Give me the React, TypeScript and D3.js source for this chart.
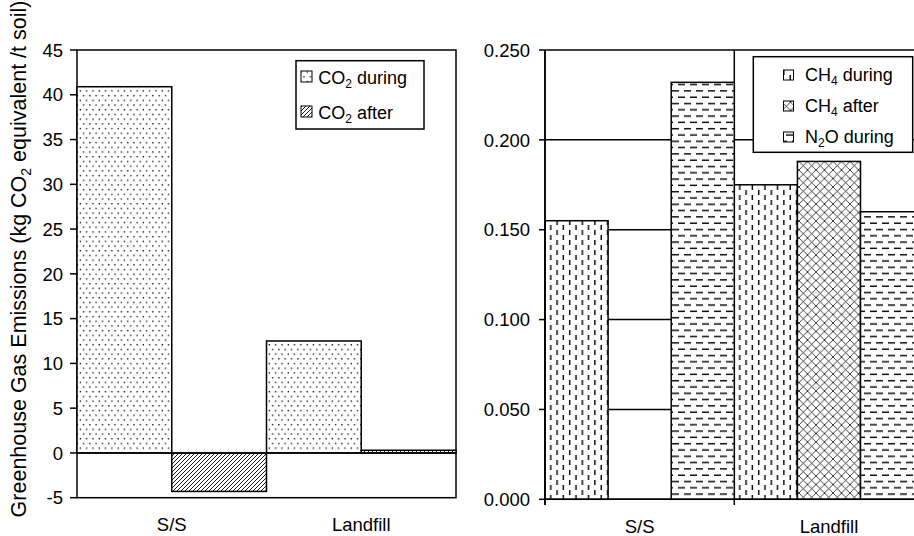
import React from "react";
import * as d3 from "d3";

const categories = ["S/S", "Landfill"];
const co2Series = ["CO2 during", "CO2 after"];
const co2During = [40.9, 12.5];
const co2After = [-4.3, 0.3];
const ch4Series = ["CH4 during", "CH4 after", "N2O during"];
const ch4During = [0.155, 0.175];
const ch4After = [0, 0.188];
const n2oDuring = [0.232, 0.16];
const leftTicks = [-5, 0, 5, 10, 15, 20, 25, 30, 35, 40, 45];
const rightTicks = [0, 0.05, 0.1, 0.15, 0.2, 0.25];

const FONT = "'Liberation Sans', Arial, sans-serif";

export default function App() {
  const W = 914, H = 536;
  const FS = 18.5;
  // Left chart
  const yL = d3.scaleLinear().domain([-5, 45]).range([497.7, 50]);
  const xL = d3.scaleBand().domain(categories).range([77, 456]).paddingInner(0).paddingOuter(0);
  const xLi = d3.scaleBand().domain(co2Series).range([0, xL.bandwidth()]);
  const leftData = [co2During, co2After];
  const leftFills = ["url(#dots)", "url(#hatch)"];

  // Right chart
  const yR = d3.scaleLinear().domain([0, 0.25]).range([499.3, 50]);
  const xR = d3.scaleBand().domain(categories).range([545, 923.6]).paddingInner(0).paddingOuter(0);
  const xRi = d3.scaleBand().domain(ch4Series).range([0, xR.bandwidth()]);
  const rightData = [ch4During, ch4After, n2oDuring];
  const rightFills = ["url(#vdash)", "url(#cross)", "url(#hdash)"];
  const fmt = d3.format(".3f");

  const sub = (main: string, s: string, rest: string) => (
    <>
      {main}
      <tspan fontSize={12} dy={4}>{s}</tspan>
      <tspan dy={-4}>{rest}</tspan>
    </>
  );

  const leftLabels = [sub("CO", "2", " during"), sub("CO", "2", " after")];
  const rightLabels = [sub("CH", "4", " during"), sub("CH", "4", " after"), sub("N", "2", "O during")];

  return (
    <svg width={W} height={H} style={{ position: "absolute", left: 0, top: 0 }} fontFamily={FONT}>
      <defs>
        <pattern id="dots" patternUnits="userSpaceOnUse" width={6.3} height={9.4}>
          <rect width={6.3} height={9.4} fill="#fff" />
          <rect x={1} y={1} width={1.3} height={1.3} fill="#000" />
          <rect x={4.15} y={5.7} width={1.3} height={1.3} fill="#000" />
        </pattern>
        <pattern id="hatch" patternUnits="userSpaceOnUse" width={4} height={4}>
          <rect width={4} height={4} fill="#fff" />
          <path d="M0,4 L4,0 M-1,1 L1,-1 M3,5 L5,3" stroke="#000" strokeWidth={0.9} />
        </pattern>
        <pattern id="vdash" patternUnits="userSpaceOnUse" width={12.6} height={10}>
          <rect width={12.6} height={10} fill="#fff" />
          <rect x={2} y={0} width={1.4} height={5} fill="#000" />
          <rect x={8.3} y={5} width={1.4} height={5} fill="#000" />
        </pattern>
        <pattern id="hdash" patternUnits="userSpaceOnUse" width={12} height={12.6}>
          <rect width={12} height={12.6} fill="#fff" />
          <rect x={0} y={2} width={7} height={1.4} fill="#000" />
          <rect x={6} y={8.3} width={7} height={1.4} fill="#000" />
          <rect x={-6} y={8.3} width={7} height={1.4} fill="#000" />
        </pattern>
        <pattern id="cross" patternUnits="userSpaceOnUse" width={8.5} height={8.5}>
          <rect width={8.5} height={8.5} fill="#fff" />
          <path d="M0,0 L8.5,8.5 M0,8.5 L8.5,0" stroke="#000" strokeWidth={0.75} />
        </pattern>
      </defs>
      <rect width={W} height={H} fill="#fff" />

      {/* Y axis title */}
      <text
        transform="translate(26,259) rotate(-90)"
        textAnchor="middle"
        fontSize={21.5}
        fill="#000"
      >
        Greenhouse Gas Emissions (kg CO
        <tspan fontSize={14} dy={4.5}>2</tspan>
        <tspan dy={-4.5}> equivalent /t soil)</tspan>
      </text>

      {/* LEFT CHART */}
      <rect x={77} y={50} width={456 - 77} height={yL(-5) - 50} fill="none" stroke="#000" strokeWidth={1.5} />
      {leftData.map((vals, si) =>
        categories.map((c, ci) => {
          const v = vals[ci];
          const x = (xL(c) as number) + (xLi(co2Series[si]) as number);
          const y0 = yL(Math.max(0, v));
          const y1 = yL(Math.min(0, v));
          return (
            <rect
              key={`l${si}${ci}`}
              x={x}
              y={y0}
              width={xLi.bandwidth()}
              height={y1 - y0}
              fill={leftFills[si]}
              stroke="#000"
              strokeWidth={1.5}
            />
          );
        })
      )}
      <line x1={77} x2={456} y1={yL(0)} y2={yL(0)} stroke="#000" strokeWidth={1.5} />
      {leftTicks.map((t) => (
        <g key={`lt${t}`}>
          <line x1={70} x2={77} y1={yL(t)} y2={yL(t)} stroke="#000" strokeWidth={1.5} />
          <text x={63} y={yL(t) + 6.7} textAnchor="end" fontSize={FS} fill="#000">
            {t}
          </text>
        </g>
      ))}
      {categories.map((c) => (
        <text key={`lc${c}`} x={(xL(c) as number) + xL.bandwidth() / 2} y={530.5} textAnchor="middle" fontSize={FS} fill="#000">
          {c}
        </text>
      ))}
      {/* left legend */}
      <rect x={296} y={60.7} width={128} height={68.3} fill="#fff" stroke="#000" strokeWidth={1.5} />
      {co2Series.map((s, i) => (
        <g key={`ll${s}`}>
          <rect x={301} y={71 + i * 35} width={11} height={11} fill={leftFills[i]} stroke="#000" strokeWidth={1} />
          <text x={318.3} y={83.5 + i * 35} fontSize={18} fill="#000">
            {leftLabels[i]}
          </text>
        </g>
      ))}

      {/* RIGHT CHART */}
      {rightTicks.map((t) => (
        <line key={`rg${t}`} x1={545} x2={923.6} y1={yR(t)} y2={yR(t)} stroke="#000" strokeWidth={1.5} />
      ))}
      {[545, 734.3, 923.6].map((x) => (
        <line key={`rv${x}`} x1={x} x2={x} y1={50} y2={505} stroke="#000" strokeWidth={1.5} />
      ))}
      {rightData.map((vals, si) =>
        categories.map((c, ci) => {
          const v = vals[ci];
          if (v <= 0) return null;
          const x = (xR(c) as number) + (xRi(ch4Series[si]) as number);
          return (
            <rect
              key={`r${si}${ci}`}
              x={x}
              y={yR(v)}
              width={xRi.bandwidth()}
              height={yR(0) - yR(v)}
              fill={rightFills[si]}
              stroke="#000"
              strokeWidth={1.5}
            />
          );
        })
      )}
      <line x1={545} x2={923.6} y1={yR(0)} y2={yR(0)} stroke="#000" strokeWidth={1.5} />
      <line x1={545} x2={545} y1={50} y2={505} stroke="#000" strokeWidth={1.5} />
      {rightTicks.map((t) => (
        <g key={`rt${t}`}>
          <line x1={539} x2={545} y1={yR(t)} y2={yR(t)} stroke="#000" strokeWidth={1.5} />
          <text x={530} y={yR(t) + 6.7} textAnchor="end" fontSize={FS} fill="#000">
            {fmt(t)}
          </text>
        </g>
      ))}
      {categories.map((c) => (
        <text key={`rc${c}`} x={(xR(c) as number) + xR.bandwidth() / 2} y={533} textAnchor="middle" fontSize={FS} fill="#000">
          {c}
        </text>
      ))}
      {/* right legend */}
      <rect x={753.3} y={56.7} width={159.4} height={95.6} fill="#fff" stroke="#000" strokeWidth={1.5} />
      {ch4Series.map((s, i) => (
        <g key={`rl${s}`}>
          <rect x={783.5} y={70 + i * 31} width={10} height={10} fill={rightFills[i]} stroke="#000" strokeWidth={1} />
          <text x={805} y={81.3 + i * 31} fontSize={18} fill="#000">
            {rightLabels[i]}
          </text>
        </g>
      ))}
    </svg>
  );
}
